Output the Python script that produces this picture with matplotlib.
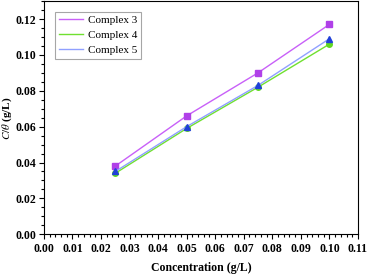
import matplotlib.pyplot as plt
from matplotlib.ticker import MultipleLocator

conc = [0.025, 0.05, 0.075, 0.1]
complex3 = [0.038, 0.066, 0.090, 0.117]
complex4 = [0.034, 0.059, 0.082, 0.106]
complex5 = [0.035, 0.060, 0.083, 0.109]

plt.rcParams['font.family'] = ['Liberation Serif', 'DejaVu Serif']
plt.rcParams['mathtext.fontset'] = 'stix'

fig = plt.figure(figsize=(3.69, 2.74), dpi=100)
ax = fig.add_axes([0.119, 0.145, 0.851, 0.851])

ax.plot(conc, complex3, color='#c860f8', lw=1.0, marker='s', ms=4,
        mfc='#b040e8', mec='#b040e8', label='Complex 3')
ax.plot(conc, complex4, color='#70e030', lw=1.0, marker='o', ms=4,
        mfc='#60d820', mec='#60d820', label='Complex 4')
ax.plot(conc, complex5, color='#90a0ff', lw=1.0, marker='^', ms=5,
        mfc='#2040d8', mec='#2040d8', label='Complex 5')

ax.set_xlim(0, 0.11)
ax.set_ylim(0, 0.13)
ax.xaxis.set_major_locator(MultipleLocator(0.01))
ax.xaxis.set_minor_locator(MultipleLocator(0.002))
ax.yaxis.set_minor_locator(MultipleLocator(0.005))
ax.set_yticks([0, 0.02, 0.04, 0.06, 0.08, 0.10, 0.12])
ax.xaxis.set_major_formatter(plt.FormatStrFormatter('%.2f'))
ax.yaxis.set_major_formatter(plt.FormatStrFormatter('%.2f'))
ax.tick_params(which='both', direction='out', labelsize=8.5, width=0.8, pad=2.5)
ax.tick_params(axis='y', which='both', pad=2)
ax.tick_params(which='major', length=3.5)
ax.tick_params(which='minor', length=2)
for lbl in ax.get_xticklabels() + ax.get_yticklabels():
    lbl.set_fontweight('bold')
for s in ax.spines.values():
    s.set_linewidth(0.8)

ax.set_xlabel('Concentration (g/L)', fontsize=8.5, fontweight='bold', labelpad=5)
ax.set_ylabel(r'$\mathbf{\mathit{C/\theta}}$ (g/L)', fontsize=8, fontweight='bold',
              va='center')
ax.yaxis.set_label_coords(-0.118, 0.5)

leg = ax.legend(loc='upper left', bbox_to_anchor=(0.035, 0.955), fontsize=8,
                frameon=True, fancybox=False, edgecolor='#909090',
                handlelength=2.2, handletextpad=0.4, borderpad=0.35,
                labelspacing=0.45, borderaxespad=0)
leg.get_frame().set_linewidth(0.8)
for h in leg.legend_handles:
    h.set_marker('')

plt.savefig('out.png', dpi=100)
